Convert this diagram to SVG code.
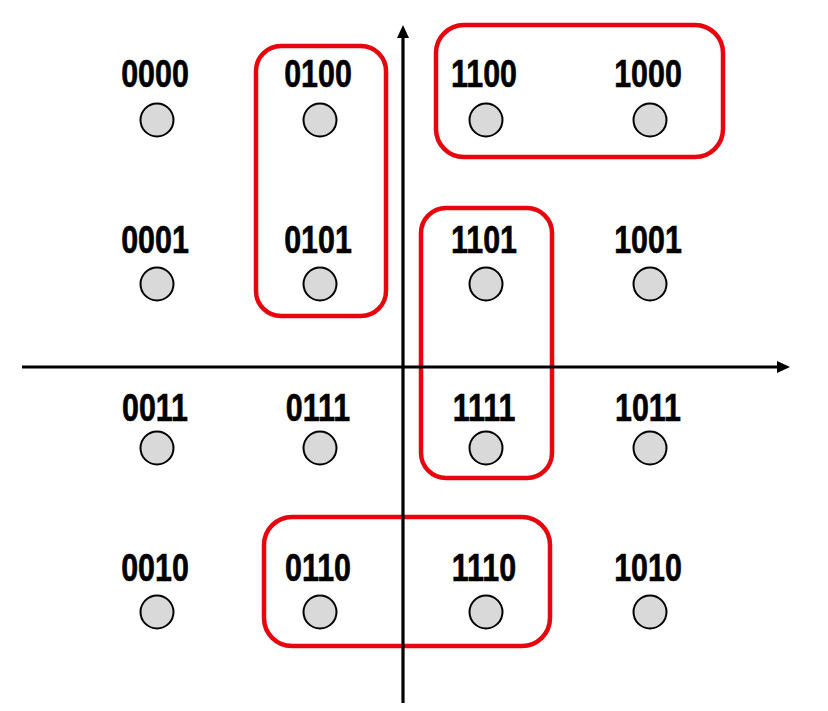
<svg xmlns="http://www.w3.org/2000/svg" width="828" height="711" viewBox="0 0 828 711">
<style>
.pt{fill:#d9d9d9;stroke:#000;stroke-width:2}
.lb{font-family:"Liberation Sans",Arial,sans-serif;font-weight:bold;font-size:38px;fill:#000;text-anchor:middle;stroke:#000;stroke-width:0.6}
.grp{fill:none;stroke:#e8060e;stroke-width:4.5}
.ax{stroke:#000;stroke-width:3.2;fill:none}
</style>
<rect width="828" height="711" fill="#fff"/>
<g id="groups">
<rect class="grp" x="256" y="46" width="130" height="270" rx="25"/>
<rect class="grp" x="436" y="25" width="287" height="132" rx="28"/>
<rect class="grp" x="421" y="208" width="131" height="270" rx="25"/>
<rect class="grp" x="264" y="517" width="286" height="129" rx="28"/>
</g>
<g id="connectors">
<line class="ax" x1="22" y1="367" x2="779" y2="367"/>
<polygon points="777,361 790,367 777,373" fill="#000"/>
<line class="ax" x1="403" y1="703" x2="403" y2="37"/>
<polygon points="397,38 403,25 409,38" fill="#000"/>
</g>
<g id="n0000"><text class="lb" transform="translate(155,87) scale(0.8,1)">0000</text><circle class="pt" cx="157" cy="120" r="16.5"/></g>
<g id="n0100"><text class="lb" transform="translate(318,87) scale(0.8,1)">0100</text><circle class="pt" cx="320" cy="120" r="16.5"/></g>
<g id="n1100"><text class="lb" transform="translate(484,87) scale(0.8,1)">1100</text><circle class="pt" cx="486" cy="120" r="16.5"/></g>
<g id="n1000"><text class="lb" transform="translate(648,87) scale(0.8,1)">1000</text><circle class="pt" cx="650" cy="120" r="16.5"/></g>
<g id="n0001"><text class="lb" transform="translate(155,253) scale(0.8,1)">0001</text><circle class="pt" cx="157" cy="284" r="16.5"/></g>
<g id="n0101"><text class="lb" transform="translate(318,253) scale(0.8,1)">0101</text><circle class="pt" cx="320" cy="284" r="16.5"/></g>
<g id="n1101"><text class="lb" transform="translate(484,253) scale(0.8,1)">1101</text><circle class="pt" cx="486" cy="284" r="16.5"/></g>
<g id="n1001"><text class="lb" transform="translate(648,253) scale(0.8,1)">1001</text><circle class="pt" cx="650" cy="284" r="16.5"/></g>
<g id="n0011"><text class="lb" transform="translate(155,421) scale(0.8,1)">0011</text><circle class="pt" cx="157" cy="448" r="16.5"/></g>
<g id="n0111"><text class="lb" transform="translate(318,421) scale(0.8,1)">0111</text><circle class="pt" cx="320" cy="448" r="16.5"/></g>
<g id="n1111"><text class="lb" transform="translate(484,421) scale(0.8,1)">1111</text><circle class="pt" cx="486" cy="448" r="16.5"/></g>
<g id="n1011"><text class="lb" transform="translate(648,421) scale(0.8,1)">1011</text><circle class="pt" cx="650" cy="448" r="16.5"/></g>
<g id="n0010"><text class="lb" transform="translate(155,581) scale(0.8,1)">0010</text><circle class="pt" cx="157" cy="612" r="16.5"/></g>
<g id="n0110"><text class="lb" transform="translate(318,581) scale(0.8,1)">0110</text><circle class="pt" cx="320" cy="612" r="16.5"/></g>
<g id="n1110"><text class="lb" transform="translate(484,581) scale(0.8,1)">1110</text><circle class="pt" cx="486" cy="612" r="16.5"/></g>
<g id="n1010"><text class="lb" transform="translate(648,581) scale(0.8,1)">1010</text><circle class="pt" cx="650" cy="612" r="16.5"/></g>
</svg>
